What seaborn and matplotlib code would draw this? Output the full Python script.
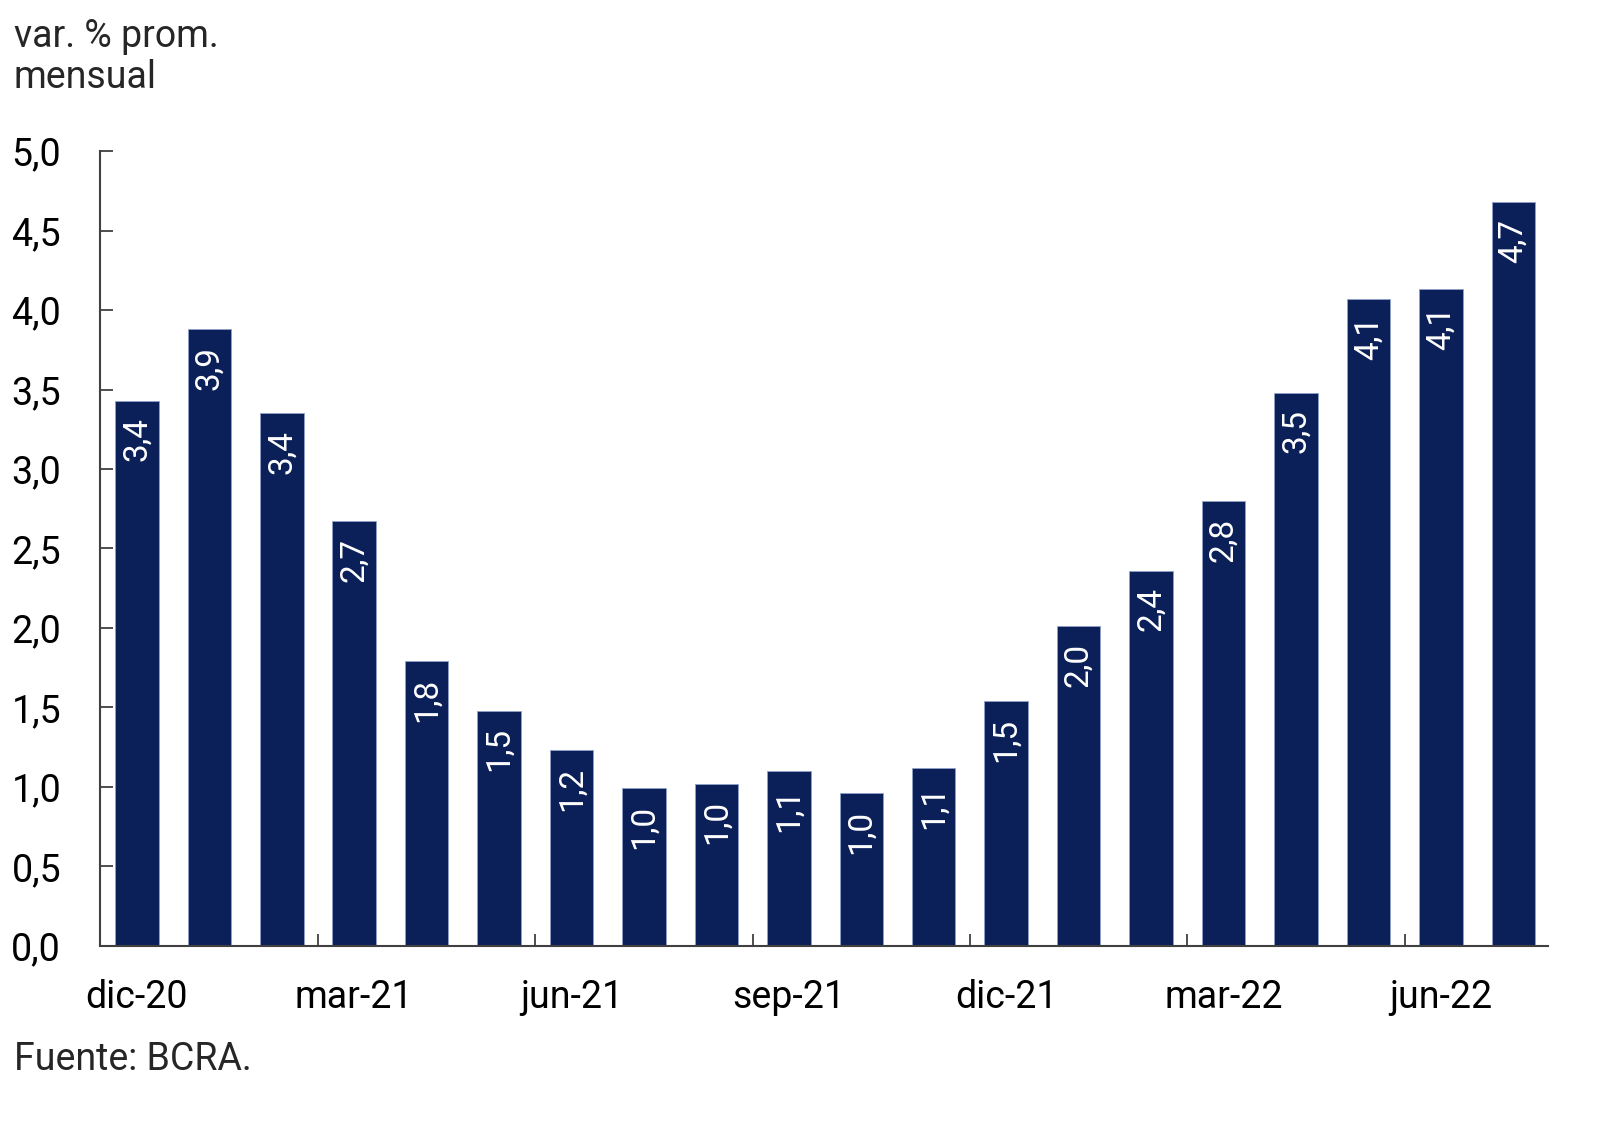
import numpy as np
import pandas as pd
import matplotlib
matplotlib.use("Agg")
import matplotlib.pyplot as plt
import seaborn as sns

sns.set_theme(style="white")
plt.rcParams["font.family"] = ["Roboto", "DejaVu Sans"]

NAVY = "#0B2058"

# monthly average variation (%)
months = ["dic-20", "ene-21", "feb-21", "mar-21", "abr-21", "may-21", "jun-21",
          "jul-21", "ago-21", "sep-21", "oct-21", "nov-21", "dic-21", "ene-22",
          "feb-22", "mar-22", "abr-22", "may-22", "jun-22", "jul-22"]
values = [3.43, 3.88, 3.35, 2.67, 1.79, 1.48, 1.23, 0.99, 1.02, 1.10,
          0.96, 1.12, 1.54, 2.01, 2.36, 2.80, 3.48, 4.07, 4.13, 4.68]
shown_months = ["dic-20", "mar-21", "jun-21", "sep-21", "dic-21", "mar-22", "jun-22"]
yticks = np.arange(0, 5.01, 0.5)

df = pd.DataFrame({"mes": months, "valor": values})

fig = plt.figure(figsize=(16.2, 11.45), dpi=100)
ax = fig.add_axes([0.0617, 0.174, 0.8939, 0.694])

sns.barplot(data=df, x="mes", y="valor", color=NAVY, saturation=1, width=0.6,
            edgecolor="#8FA0C8", linewidth=0.6, ax=ax)

# value labels inside bars
for patch, v in zip(ax.patches, values):
    ax.annotate(f"{v:.1f}".replace(".", ","),
                xy=(patch.get_x() + patch.get_width() / 2, patch.get_height()),
                xytext=(0, -12), textcoords="offset points",
                rotation=90, ha="center", va="top", color="white", fontsize=24)

ax.set_ylim(0, 5)
ax.set_xlim(-0.51, len(months) - 0.52)
ax.set_yticks(yticks)
ax.set_yticklabels([f"{t:.1f}".replace(".", ",") for t in yticks])

# labels every third month, tick marks between bars
idx = [months.index(m) for m in shown_months]
ax.set_xticks(idx)
ax.set_xticklabels(shown_months)
ax.set_xticks([i - 0.5 for i in idx[1:]], minor=True)
ax.tick_params(axis="x", which="major", bottom=True, length=0, pad=24,
               labelsize=27, colors="black")
ax.tick_params(axis="x", which="minor", bottom=True, direction="in", length=9,
               width=1.3, color="#404040")
ax.tick_params(axis="y", left=True, direction="in", length=9, width=1.3, color="#404040",
               pad=28, labelsize=27, labelcolor="black")

ax.set_xlabel("")
ax.set_ylabel("")
sns.despine(ax=ax)
for s in ["left", "bottom"]:
    ax.spines[s].set_color("#404040")
    ax.spines[s].set_linewidth(1.5)

fig.text(14 / 1620, 1 - 18 / 1145, "var. % prom.\nmensual", ha="left", va="top",
         fontsize=27, linespacing=1.15)
fig.text(14 / 1620, 1 - 1060 / 1145, "Fuente: BCRA.", ha="left", va="center", fontsize=27)

fig.savefig("out.png", dpi=100)
